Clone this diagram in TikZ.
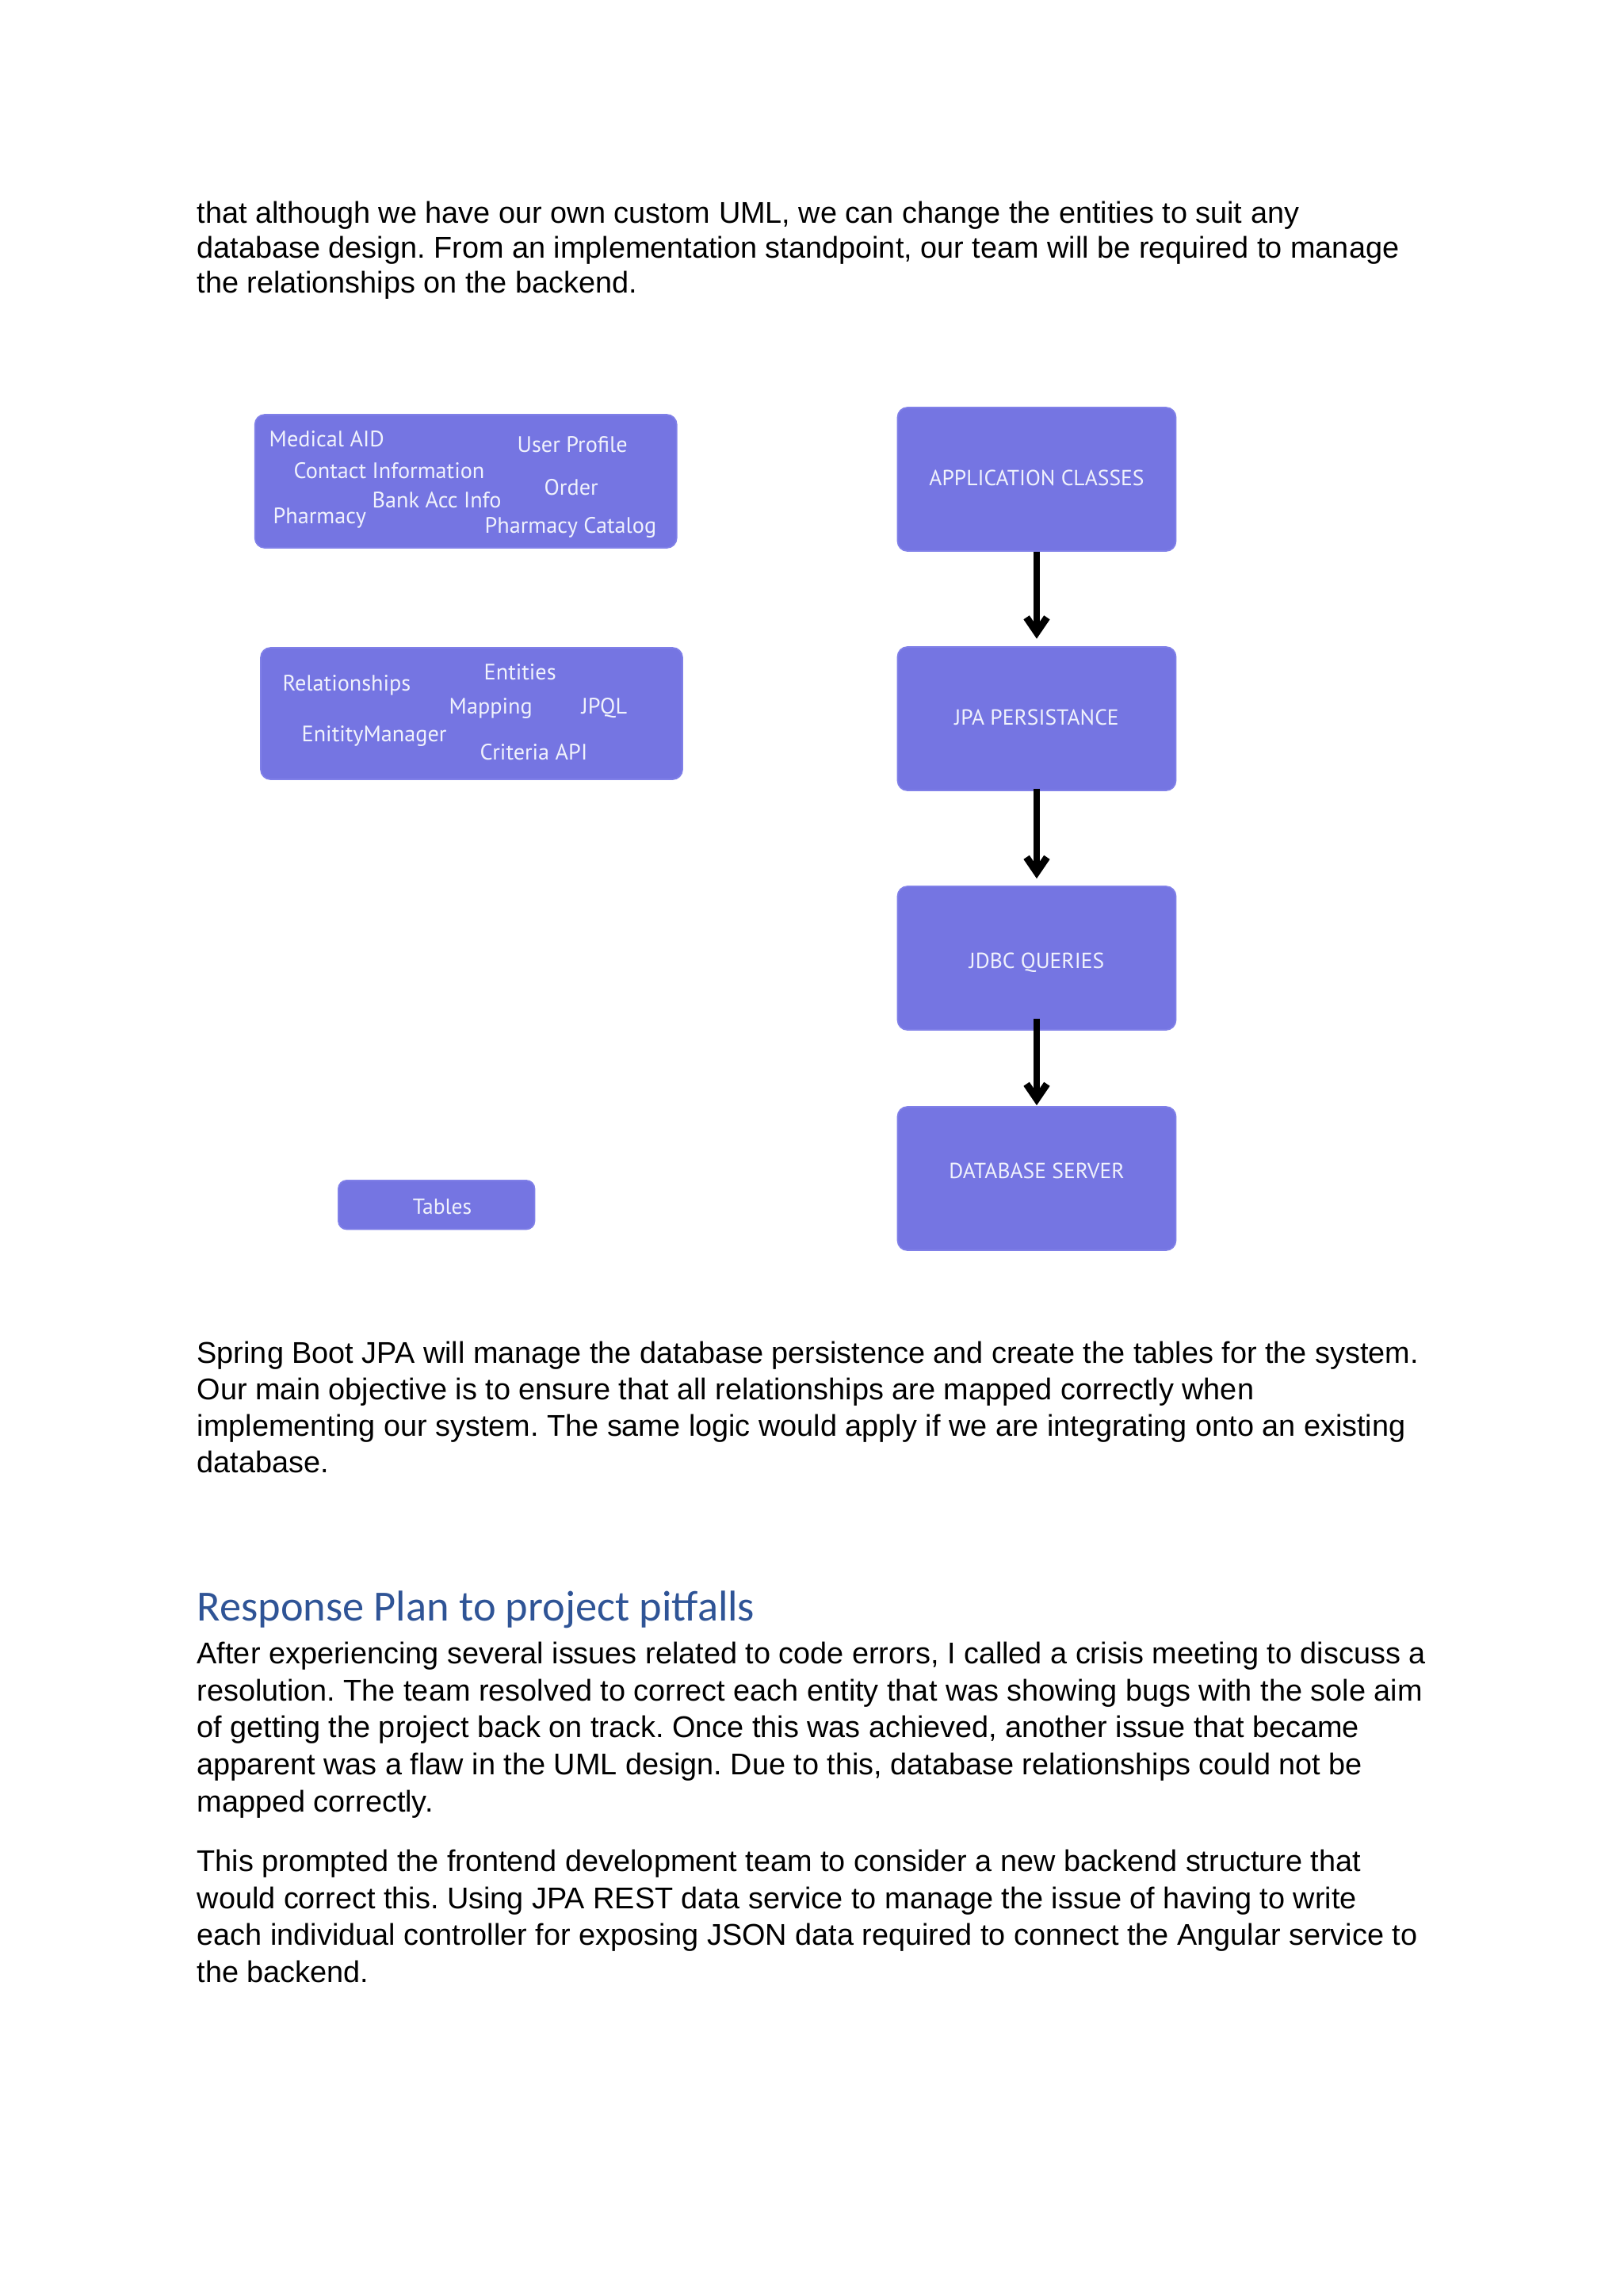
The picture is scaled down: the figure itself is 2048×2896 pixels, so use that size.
\documentclass[tikz,border=0pt]{standalone}
\usepackage{fontspec}
\setmainfont{Liberation Sans}
\newfontfamily\boxfont{PT Sans}
\newfontfamily\headfont{Carlito}
\usetikzlibrary{arrows.meta}
\definecolor{boxblue}{RGB}{117,117,226}
\definecolor{boxedge}{RGB}{128,128,232}
\definecolor{boxtext}{RGB}{240,242,252}
\definecolor{headblue}{HTML}{2F5496}
\def\pxu{0.29066pt}
\frenchspacing
\begin{document}
\frenchspacing
\begin{tikzpicture}[x=0.29066pt, y=-0.29066pt,
  box/.style={fill=boxblue, draw=boxedge, line width=0.5pt, rounded corners=3.6pt, inner sep=0pt},
  lbl/.style={font=\boxfont\fontsize{8.2}{10}\selectfont, text=boxtext, inner sep=0pt, anchor=base west},
  flbl/.style={lbl, font=\boxfont\fontsize{8.0}{10}\selectfont, anchor=base},
  body/.style={font=\fontsize{11}{13}\selectfont\frenchspacing, inner sep=0pt, anchor=base west},
  flow/.style={line width=2.6pt, -{Straight Barb[length=5.5pt,width=7.5pt]}}
]
\useasboundingbox (0,0) rectangle (2048,2896);
\fill[white] (0,0) rectangle (2048,2896);

% paragraph 1
\node[body] (p1a) at (248,281) {that although we have our own custom UML, we can change the entities to suit any};
\node[body] (p1b) at (248,325) {database design. From an implementation standpoint, our team will be required to manage};
\node[body] (p1c) at (248,369) {the relationships on the backend.};

% left boxes
\node[box, minimum width=532*\pxu, minimum height=168*\pxu] (ents) at (587.7,607) {};
\node[lbl] (t1) at (339,563) {Medical AID};
\node[lbl] (t2) at (652,570) {User Profile};
\node[lbl] (t3) at (370,603) {Contact Information};
\node[lbl] (t4) at (686,624) {Order};
\node[lbl] (t5) at (469,640) {Bank Acc Info};
\node[lbl] (t6) at (344,660) {Pharmacy};
\node[lbl] (t7) at (611,672) {Pharmacy Catalog};

\node[box, minimum width=532*\pxu, minimum height=166*\pxu] (jpaterms) at (595,900) {};
\node[lbl] (u1) at (356,871) {Relationships};
\node[lbl] (u2) at (610,857) {Entities};
\node[lbl] (u3) at (566,900) {Mapping};
\node[lbl] (u4) at (733,900) {JPQL};
\node[lbl] (u5) at (380,935) {EnitityManager};
\node[lbl] (u6) at (605,958) {Criteria API};

\node[box, rounded corners=3pt, minimum width=247.5*\pxu, minimum height=61.5*\pxu] (tables) at (550.7,1519.7) {};
\node[flbl] (tablestxt) at (558,1531) {Tables};

% flow boxes
\node[box, minimum width=351*\pxu, minimum height=181*\pxu] (app) at (1308,604.5) {};
\node[box, minimum width=351*\pxu, minimum height=181*\pxu] (jpa) at (1308,906.5) {};
\node[box, minimum width=351*\pxu, minimum height=181*\pxu] (jdbc) at (1308,1208.5) {};
\node[box, minimum width=351*\pxu, minimum height=181*\pxu] (db) at (1308,1486.5) {};
\node[flbl] (apptxt) at (1308,612.5) {APPLICATION CLASSES};
\node[flbl] (jpatxt) at (1308,914.5) {JPA PERSISTANCE};
\node[flbl] (jdbctxt) at (1308,1221.5) {JDBC QUERIES};
\node[flbl] (dbtxt) at (1308,1486.5) {DATABASE SERVER};

\draw[flow, shorten >=9.5*\pxu] (app.south) -- (jpa.north);
\draw[flow, shorten <=-3*\pxu, shorten >=9*\pxu] (jpa.south) -- (jdbc.north);
\draw[flow, shorten <=-15*\pxu, shorten >=1*\pxu] (jdbc.south) -- (db.north);

% paragraph 2
\node[body] (p2a) at (248,1719) {Spring Boot JPA will manage the database persistence and create the tables for the system.};
\node[body] (p2b) at (248,1765) {Our main objective is to ensure that all relationships are mapped correctly when};
\node[body] (p2c) at (248,1811) {implementing our system. The same logic would apply if we are integrating onto an existing};
\node[body] (p2d) at (248,1857) {database.};

% heading
\node[body, font=\headfont\fontsize{15.8}{19}\selectfont, text=headblue] (head) at (248,2044) {Response Plan to project pitfalls};

% paragraph 3
\node[body] (p3a) at (248,2098) {After experiencing several issues related to code errors, I called a crisis meeting to discuss a};
\node[body] (p3b) at (248,2145) {resolution. The team resolved to correct each entity that was showing bugs with the sole aim};
\node[body] (p3c) at (248,2191) {of getting the project back on track. Once this was achieved, another issue that became};
\node[body] (p3d) at (248,2238) {apparent was a flaw in the UML design. Due to this, database relationships could not be};
\node[body] (p3e) at (248,2285) {mapped correctly.};

% paragraph 4
\node[body] (p4a) at (248,2360) {This prompted the frontend development team to consider a new backend structure that};
\node[body] (p4b) at (248,2407) {would correct this. Using JPA REST data service to manage the issue of having to write};
\node[body] (p4c) at (248,2453) {each individual controller for exposing JSON data required to connect the Angular service to};
\node[body] (p4d) at (248,2500) {the backend.};
\end{tikzpicture}
\end{document}
